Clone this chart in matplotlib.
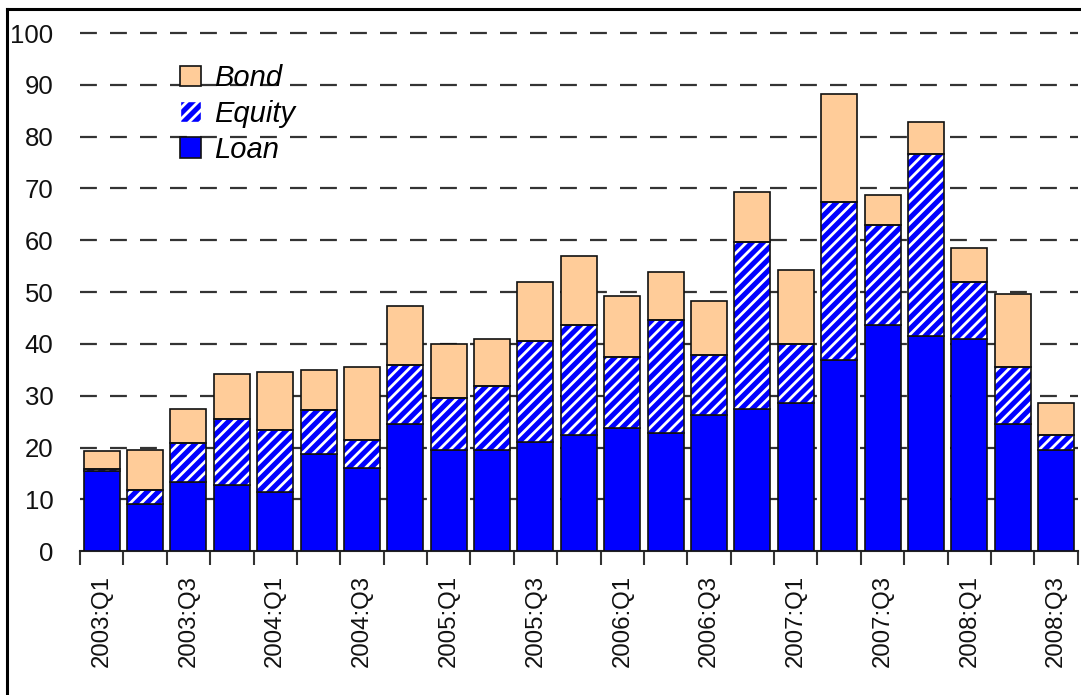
import matplotlib.pyplot as plt
from matplotlib.lines import Line2D
from matplotlib.patches import Patch
import numpy as np

quarters = ["2003:Q1", "2003:Q2", "2003:Q3", "2003:Q4", "2004:Q1", "2004:Q2", "2004:Q3", "2004:Q4",
            "2005:Q1", "2005:Q2", "2005:Q3", "2005:Q4", "2006:Q1", "2006:Q2", "2006:Q3", "2006:Q4",
            "2007:Q1", "2007:Q2", "2007:Q3", "2007:Q4", "2008:Q1", "2008:Q2", "2008:Q3"]
loan = [15.5, 9.1, 13.4, 12.7, 11.4, 18.8, 16.1, 24.6, 19.5, 19.5, 21.1, 22.5,
        23.8, 22.8, 26.3, 27.5, 28.5, 36.9, 43.6, 41.5, 40.9, 24.5, 19.5]
equity = [0.4, 2.7, 7.4, 12.8, 12.0, 8.4, 5.3, 11.3, 10.0, 12.4, 19.5, 21.1,
          13.7, 21.8, 11.5, 32.2, 11.4, 30.4, 19.4, 35.2, 11.0, 11.1, 3.0]
bond = [3.5, 7.7, 6.7, 8.6, 11.1, 7.7, 14.1, 11.4, 10.4, 9.0, 11.3, 13.3,
        11.7, 9.3, 10.5, 9.6, 14.3, 20.9, 5.7, 6.1, 6.7, 14.0, 6.0]

plt.rcParams['font.family'] = ['Liberation Sans', 'DejaVu Sans']
plt.rcParams['hatch.linewidth'] = 2.0

c_loan = '#0000ff'
c_bond = '#ffcc99'

fig = plt.figure(figsize=(10.81, 6.95), dpi=100)
ax = fig.add_axes([0.074, 0.207, 0.923, 0.7455])

x = np.arange(len(quarters))
loan = np.array(loan)
equity = np.array(equity)
bond = np.array(bond)
w = 0.83

ax.bar(x, loan, w, color=c_loan, edgecolor='#111111', linewidth=1.2, zorder=3)
# equity: blue with white diagonal stripes, then outline on top
ax.bar(x, equity, w, bottom=loan, color=c_loan, edgecolor='white', hatch='///', linewidth=0, zorder=3)
ax.bar(x, equity, w, bottom=loan, fill=False, edgecolor='#111111', linewidth=1.2, zorder=4)
ax.bar(x, bond, w, bottom=loan + equity, color=c_bond, edgecolor='#111111', linewidth=1.2, zorder=3)

ax.set_xlim(-0.5, len(quarters) - 0.5)
ax.set_ylim(0, 100)
ax.set_yticks(np.arange(0, 101, 10))
ax.tick_params(axis='y', length=0, pad=19, labelsize=18.5, labelcolor='#111111')

ax.set_xticks(x[::2])
ax.set_xticklabels(quarters[::2], rotation=90, fontsize=17.3, color='#111111')
ax.set_xticks(np.arange(-0.5, len(quarters)), minor=True)
ax.tick_params(axis='x', which='major', length=0, pad=17)
ax.tick_params(axis='x', which='minor', length=10, width=1.5, color='#333333', direction='out')

for s in ['left', 'right', 'top']:
    ax.spines[s].set_visible(False)
ax.spines['bottom'].set_linewidth(1.5)
ax.spines['bottom'].set_color('#222222')

for v in range(10, 101, 10):
    ax.axhline(v, color='#333333', linewidth=1.6, dashes=(7.6, 5.9), zorder=1, clip_on=False)

handles = [Patch(facecolor=c_bond, edgecolor='#111111', linewidth=1.2, label='Bond'),
           Patch(facecolor=c_loan, edgecolor='white', hatch='///', label='Equity'),
           Patch(facecolor=c_loan, edgecolor='#111111', linewidth=1.2, label='Loan')]
leg = ax.legend(handles=handles, loc='upper left', bbox_to_anchor=(0.10, 0.94), frameon=False,
                prop={'style': 'italic', 'size': 21}, handlelength=0.72, handleheight=0.72,
                handletextpad=0.45, labelspacing=0.27, borderpad=0, borderaxespad=0)

# border of the picture (top and left)
fig.add_artist(Line2D([0.0065, 1.0], [0.987, 0.987], color='black', linewidth=2.2))
fig.add_artist(Line2D([0.0065, 0.0065], [0.0, 0.987], color='black', linewidth=2.2))

fig.savefig('out.png', dpi=100)
